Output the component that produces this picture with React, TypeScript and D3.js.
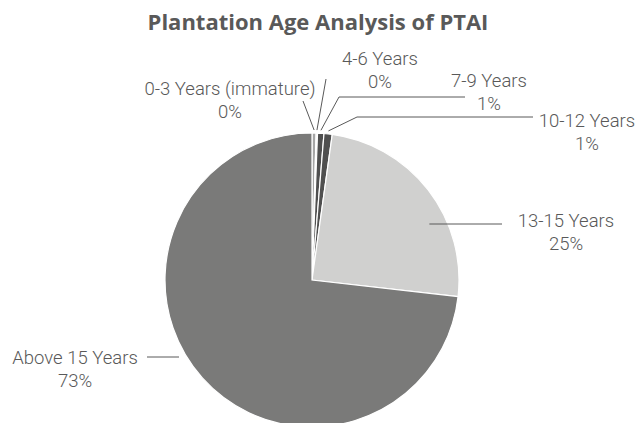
// Plantation age pie chart with D3
import React, { useEffect, useRef } from 'react';
import * as d3 from 'd3';

const categories = [
  '0-3 Years (immature)',
  '4-6 Years',
  '7-9 Years',
  '10-12 Years',
  '13-15 Years',
  'Above 15 Years',
];
const shares = [0.45, 0.15, 0.7, 0.9, 24.6, 73.2];
const shareLabels = ['0%', '0%', '1%', '1%', '25%', '73%'];
const colors = ['#a6a6a6', '#e8e8e8', '#4f4f4f', '#4f4f4f', '#d0d0cf', '#7a7a79'];

// label layout: text centre, elbow point and end of horizontal segment
const labelLayout = [
  { x: 230, y: 88, elbow: [303, 101], end: null },
  { x: 380, y: 58, elbow: [326, 79], end: null },
  { x: 489, y: 80, elbow: [339, 97], end: [465, 97] },
  { x: 587, y: 120, elbow: [357, 117], end: [533, 117] },
  { x: 566, y: 220, elbow: [502, 224], end: null },
  { x: 75, y: 357, elbow: [147, 357], end: null },
];

const W = 637;
const H = 423;

const App = () => {
  const svgRef = useRef<SVGSVGElement>(null);

  useEffect(() => {
    document.body.style.margin = '0';
    if (!svgRef.current) return;
    const svg = d3.select(svgRef.current);
    svg.selectAll('*').remove();

    const cx = 312;
    const cy = 280;
    const r = 147;

    svg.append('rect').attr('width', W).attr('height', H).attr('fill', '#ffffff');

    svg.append('text')
      .attr('x', 318)
      .attr('y', 30)
      .attr('text-anchor', 'middle')
      .attr('font-family', 'Open Sans, sans-serif')
      .attr('font-weight', 700)
      .attr('font-size', 22)
      .attr('fill', '#595959')
      .text('Plantation Age Analysis of PTAI');

    const pie = d3.pie<number>().sort(null).value(d => d);
    const arcs = pie(shares);
    const arc = d3.arc<d3.PieArcDatum<number>>().innerRadius(0).outerRadius(r);

    const g = svg.append('g').attr('transform', `translate(${cx},${cy})`);

    g.selectAll('path')
      .data(arcs)
      .enter()
      .append('path')
      .attr('d', arc)
      .attr('fill', (_, i) => colors[i])
      .attr('stroke', '#ffffff')
      .attr('stroke-width', 1.2);

    // leader lines
    arcs.forEach((a, i) => {
      const L = labelLayout[i];
      const mid = (a.startAngle + a.endAngle) / 2;
      const sx = cx + Math.sin(mid) * (r + 3);
      const sy = cy - Math.cos(mid) * (r + 3);
      const pts: [number, number][] = [[sx, sy], [L.elbow[0], L.elbow[1]]];
      if (L.end) pts.push([L.end[0], L.end[1]]);
      if (i === 4) pts[0] = [cx + Math.sin(mid) * (r - 1) + 2, L.elbow[1]];
      if (i === 5) pts[0] = [179, L.elbow[1]];
      svg.append('path')
        .attr('d', d3.line()(pts) as string)
        .attr('fill', 'none')
        .attr('stroke', '#595959')
        .attr('stroke-width', 1);
    });

    // labels
    categories.forEach((c, i) => {
      const L = labelLayout[i];
      const t = svg.append('text')
        .attr('text-anchor', 'middle')
        .attr('font-family', 'Roboto, sans-serif')
        .attr('font-weight', 300)
        .attr('font-size', 18.5)
        .attr('fill', '#595959');
      t.append('tspan').attr('x', L.x).attr('y', L.y + 7).text(c);
      t.append('tspan').attr('x', L.x).attr('y', L.y + 30).text(shareLabels[i]);
    });
  }, []);

  return <svg ref={svgRef} width={W} height={H} style={{ display: 'block' }} />;
};

export default App;
